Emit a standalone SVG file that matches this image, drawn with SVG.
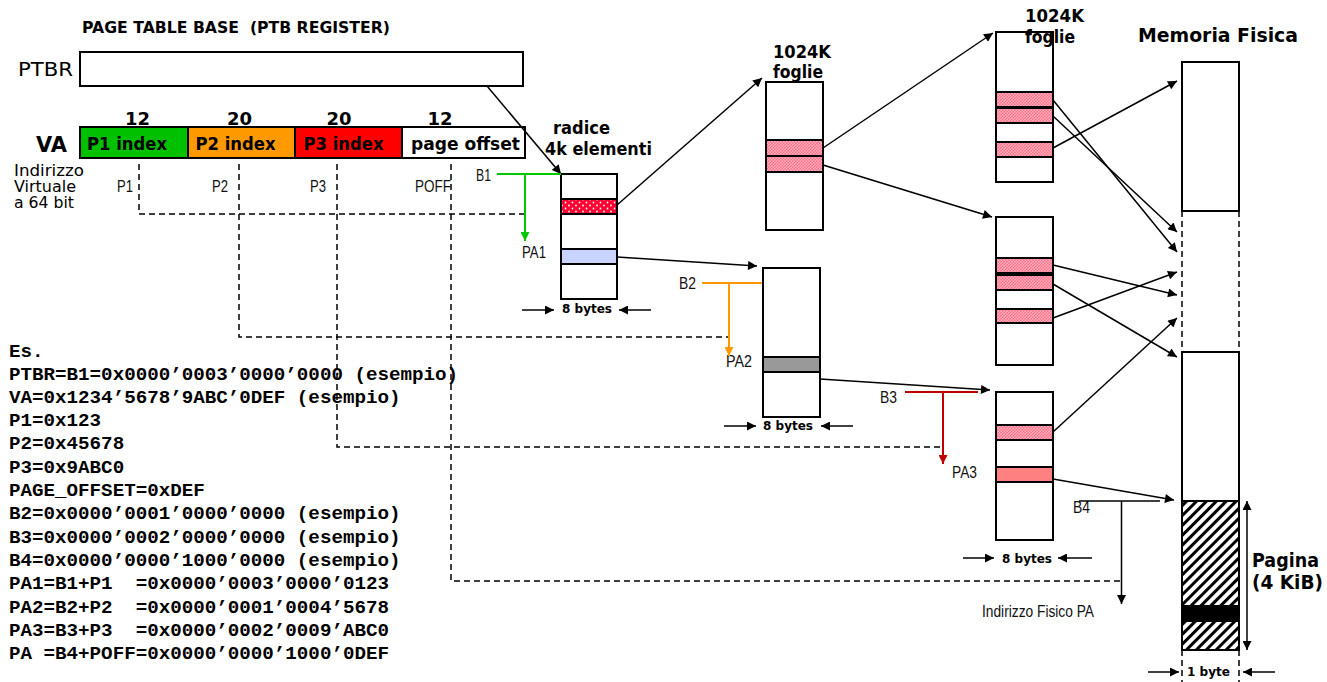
<svg xmlns="http://www.w3.org/2000/svg" width="1327" height="682" viewBox="0 0 1327 682">
<style>
.cs{font-family:"DejaVu Sans","Liberation Sans",sans-serif;fill:#000}
.b{font-weight:bold}
.ar{font-family:"Liberation Sans",Arial,sans-serif;font-size:16.5px;fill:#111}
.mono{font-family:"Liberation Mono","Courier New",monospace;font-weight:bold;font-size:19.2px;fill:#000}
.box{fill:#fff;stroke:#000;stroke-width:2}
.row{stroke:#000;stroke-width:2}
.ln{fill:none;stroke:#000;stroke-width:1.5}
.dash{fill:none;stroke:#000;stroke-width:1.5;stroke-dasharray:6 4}
</style>
<defs>
<marker id="ah" viewBox="0 0 10 10" refX="10" refY="5" markerWidth="11" markerHeight="9" markerUnits="userSpaceOnUse" orient="auto-start-reverse"><path d="M0,0 L10,5 L0,10 z" fill="#000"/></marker>
<marker id="ahg" viewBox="0 0 10 10" refX="10" refY="5" markerWidth="11" markerHeight="9" markerUnits="userSpaceOnUse" orient="auto"><path d="M0,0 L10,5 L0,10 z" fill="#00C800"/></marker>
<marker id="aho" viewBox="0 0 10 10" refX="10" refY="5" markerWidth="11" markerHeight="9" markerUnits="userSpaceOnUse" orient="auto"><path d="M0,0 L10,5 L0,10 z" fill="#FF9900"/></marker>
<marker id="ahr" viewBox="0 0 10 10" refX="10" refY="5" markerWidth="11" markerHeight="9" markerUnits="userSpaceOnUse" orient="auto"><path d="M0,0 L10,5 L0,10 z" fill="#C00000"/></marker>
<pattern id="dots" width="7" height="6" patternUnits="userSpaceOnUse"><rect width="7" height="6" fill="#FF0033"/><circle cx="2" cy="1.5" r="0.9" fill="#fff"/><circle cx="5.5" cy="4.5" r="0.9" fill="#fff"/></pattern>
<pattern id="pink" width="3" height="3" patternUnits="userSpaceOnUse"><rect width="3" height="3" fill="#FF6B85"/><rect width="1.5" height="1.5" fill="#FFB6C3"/><rect x="1.5" y="1.5" width="1.5" height="1.5" fill="#FFB6C3"/></pattern>
<pattern id="hatch" width="7" height="7" patternUnits="userSpaceOnUse" patternTransform="rotate(45)"><rect width="7" height="7" fill="#fff"/><line x1="3.5" y1="0" x2="3.5" y2="7" stroke="#000" stroke-width="3"/></pattern>
</defs>
<rect width="1327" height="682" fill="#fff"/>

<g id="title">
<text class="cs b" x="82" y="33" font-size="15" textLength="308" lengthAdjust="spacingAndGlyphs" xml:space="preserve">PAGE TABLE BASE  (PTB REGISTER)</text>
</g>

<g id="ptbr">
<text class="cs" x="18" y="76" font-size="20" textLength="55" lengthAdjust="spacingAndGlyphs">PTBR</text>
<rect class="box" x="80" y="52" width="443" height="34"/>
</g>

<g id="va">
<text class="cs b" x="36" y="152" font-size="21" textLength="31" lengthAdjust="spacingAndGlyphs">VA</text>
<text class="cs b" x="137.5" y="125" font-size="18" text-anchor="middle">12</text>
<text class="cs b" x="239.5" y="125" font-size="18" text-anchor="middle">20</text>
<text class="cs b" x="339" y="125" font-size="18" text-anchor="middle">20</text>
<text class="cs b" x="440" y="125" font-size="18" text-anchor="middle">12</text>
<rect x="80" y="127" width="108" height="31" fill="#00C000" stroke="#000" stroke-width="2"/>
<rect x="188" y="127" width="107" height="31" fill="#FF9900" stroke="#000" stroke-width="2"/>
<rect x="295" y="127" width="107" height="31" fill="#FF0000" stroke="#000" stroke-width="2"/>
<rect x="402" y="127" width="123" height="31" fill="#fff" stroke="#000" stroke-width="2"/>
<text class="cs b" x="87" y="150" font-size="17" textLength="80" lengthAdjust="spacingAndGlyphs">P1 index</text>
<text class="cs b" x="195.5" y="150" font-size="17" textLength="80" lengthAdjust="spacingAndGlyphs">P2 index</text>
<text class="cs b" x="303.5" y="150" font-size="17" textLength="80" lengthAdjust="spacingAndGlyphs" fill="#200000">P3 index</text>
<text class="cs b" x="411" y="150" font-size="17" textLength="109" lengthAdjust="spacingAndGlyphs">page offset</text>
<text class="cs" x="14" y="176" font-size="15.5" textLength="70" lengthAdjust="spacingAndGlyphs">Indirizzo</text>
<text class="cs" x="14" y="192" font-size="15.5" textLength="62" lengthAdjust="spacingAndGlyphs">Virtuale</text>
<text class="cs" x="14" y="208" font-size="15.5" textLength="60" lengthAdjust="spacingAndGlyphs">a 64 bit</text>
<text class="ar" x="117" y="192" textLength="16" lengthAdjust="spacingAndGlyphs">P1</text>
<text class="ar" x="212" y="192" textLength="16" lengthAdjust="spacingAndGlyphs">P2</text>
<text class="ar" x="310" y="192" textLength="16" lengthAdjust="spacingAndGlyphs">P3</text>
<text class="ar" x="415" y="192" textLength="36" lengthAdjust="spacingAndGlyphs">POFF</text>
</g>

<g id="table-radice">
<text class="cs b" x="581.5" y="134" font-size="17" text-anchor="middle" textLength="57" lengthAdjust="spacingAndGlyphs">radice</text>
<text class="cs b" x="545" y="155" font-size="17" textLength="107" lengthAdjust="spacingAndGlyphs">4k elementi</text>
<rect class="box" x="561" y="174" width="56" height="125"/>
<rect class="row" x="561" y="199" width="56" height="15" fill="url(#dots)"/>
<rect class="row" x="561" y="249" width="56" height="15" fill="#C8D4FF"/>
<text class="cs b" x="562" y="313" font-size="13" textLength="50" lengthAdjust="spacingAndGlyphs">8 bytes</text>
</g>

<g id="table-l2-a">
<text class="cs b" x="773" y="58" font-size="17" textLength="58" lengthAdjust="spacingAndGlyphs">1024K</text>
<text class="cs b" x="773" y="78" font-size="17" textLength="50" lengthAdjust="spacingAndGlyphs">foglie</text>
<rect class="box" x="766" y="82" width="57" height="148"/>
<rect class="row" x="766" y="140" width="57" height="16" fill="url(#pink)"/>
<rect class="row" x="766" y="156" width="57" height="16" fill="url(#pink)"/>
</g>

<g id="table-l2-b">
<rect class="box" x="763" y="268" width="57" height="149"/>
<rect class="row" x="763" y="357" width="57" height="15" fill="#999"/>
<text class="cs b" x="763" y="430" font-size="13" textLength="50" lengthAdjust="spacingAndGlyphs">8 bytes</text>
</g>

<g id="table-l3-a">
<rect class="box" x="996" y="32" width="57" height="150"/>
<rect class="row" x="996" y="92" width="57" height="15" fill="url(#pink)"/>
<rect class="row" x="996" y="108" width="57" height="15" fill="url(#pink)"/>
<rect class="row" x="996" y="142" width="57" height="15" fill="url(#pink)"/>
<text class="cs b" x="1025" y="22" font-size="17" textLength="59" lengthAdjust="spacingAndGlyphs">1024K</text>
<text class="cs b" x="1025" y="43" font-size="17" textLength="50" lengthAdjust="spacingAndGlyphs">foglie</text>
</g>

<g id="table-l3-b">
<rect class="box" x="996" y="217" width="57" height="148"/>
<rect class="row" x="996" y="258" width="57" height="15" fill="url(#pink)"/>
<rect class="row" x="996" y="275" width="57" height="15" fill="url(#pink)"/>
<rect class="row" x="996" y="309" width="57" height="14" fill="url(#pink)"/>
</g>

<g id="table-l3-c">
<rect class="box" x="996" y="392" width="57" height="148"/>
<rect class="row" x="996" y="425" width="57" height="15" fill="url(#pink)"/>
<rect class="row" x="996" y="467" width="57" height="15" fill="#FF8080"/>
<text class="cs b" x="1002" y="563" font-size="13" textLength="50" lengthAdjust="spacingAndGlyphs">8 bytes</text>
</g>

<g id="memoria">
<text class="cs b" x="1138" y="42" font-size="20" textLength="160" lengthAdjust="spacingAndGlyphs">Memoria Fisica</text>
<rect class="box" x="1182" y="62" width="57" height="149"/>
<rect class="box" x="1182" y="352" width="57" height="298"/>
<rect x="1182" y="501" width="57" height="149" fill="url(#hatch)" stroke="#000" stroke-width="2"/>
<rect x="1182" y="605" width="57" height="17" fill="#000"/>
<line class="dash" x1="1182" y1="211" x2="1182" y2="352"/>
<line class="dash" x1="1239" y1="211" x2="1239" y2="352"/>
<line class="dash" x1="1182" y1="650" x2="1182" y2="682"/>
<line class="dash" x1="1239" y1="650" x2="1239" y2="682"/>
<text class="cs b" x="1252" y="567" font-size="20" textLength="67" lengthAdjust="spacingAndGlyphs">Pagina</text>
<text class="cs b" x="1252" y="589" font-size="20" textLength="71" lengthAdjust="spacingAndGlyphs" xml:space="preserve">(4 KiB)</text>
<text class="cs b" x="1187" y="676" font-size="13" textLength="43" lengthAdjust="spacingAndGlyphs">1 byte</text>
</g>

<g id="labels">
<text class="ar" x="476" y="181" textLength="15" lengthAdjust="spacingAndGlyphs">B1</text>
<text class="ar" x="522" y="258" textLength="24" lengthAdjust="spacingAndGlyphs">PA1</text>
<text class="ar" x="679" y="289" textLength="17" lengthAdjust="spacingAndGlyphs">B2</text>
<text class="ar" x="726" y="367" textLength="26" lengthAdjust="spacingAndGlyphs">PA2</text>
<text class="ar" x="880" y="403" textLength="17" lengthAdjust="spacingAndGlyphs">B3</text>
<text class="ar" x="952" y="478" textLength="25" lengthAdjust="spacingAndGlyphs">PA3</text>
<text class="ar" x="1073" y="513" textLength="17" lengthAdjust="spacingAndGlyphs">B4</text>
<text class="ar" x="982" y="617" textLength="112" lengthAdjust="spacingAndGlyphs">Indirizzo Fisico PA</text>
</g>

<g id="esempio">
<text class="mono" x="9" y="357">Es.</text>
<text class="mono" x="9" y="380">PTBR=B1=0x0000’0003’0000’0000 (esempio)</text>
<text class="mono" x="9" y="403">VA=0x1234’5678’9ABC’0DEF (esempio)</text>
<text class="mono" x="9" y="426">P1=0x123</text>
<text class="mono" x="9" y="449">P2=0x45678</text>
<text class="mono" x="9" y="473">P3=0x9ABC0</text>
<text class="mono" x="9" y="496">PAGE_OFFSET=0xDEF</text>
<text class="mono" x="9" y="519">B2=0x0000’0001’0000’0000 (esempio)</text>
<text class="mono" x="9" y="543">B3=0x0000’0002’0000’0000 (esempio)</text>
<text class="mono" x="9" y="566">B4=0x0000’0000’1000’0000 (esempio)</text>
<text class="mono" x="9" y="589" xml:space="preserve">PA1=B1+P1  =0x0000’0003’0000’0123</text>
<text class="mono" x="9" y="613" xml:space="preserve">PA2=B2+P2  =0x0000’0001’0004’5678</text>
<text class="mono" x="9" y="636" xml:space="preserve">PA3=B3+P3  =0x0000’0002’0009’ABC0</text>
<text class="mono" x="9" y="659" xml:space="preserve">PA =B4+POFF=0x0000’0000’1000’0DEF</text>
</g>

<g id="connectors">
<polyline class="dash" points="139,164 139,214 525,214"/>
<polyline class="dash" points="239,164 239,337 729,337"/>
<polyline class="dash" points="337,164 337,447 943,447"/>
<polyline class="dash" points="451,164 451,581 1121,581"/>
<line class="ln" x1="487" y1="86" x2="561" y2="174" marker-end="url(#ah)"/>
<line x1="497" y1="174" x2="561" y2="174" stroke="#00C800" stroke-width="2"/>
<line x1="525" y1="174" x2="525" y2="241" stroke="#00C800" stroke-width="2" marker-end="url(#ahg)"/>
<line x1="702" y1="283" x2="762" y2="283" stroke="#FF9900" stroke-width="2"/>
<line x1="729" y1="283" x2="729" y2="356" stroke="#FF9900" stroke-width="2" marker-end="url(#aho)"/>
<line x1="905" y1="392" x2="978" y2="392" stroke="#C00000" stroke-width="2"/>
<line x1="943" y1="392" x2="943" y2="464" stroke="#C00000" stroke-width="2" marker-end="url(#ahr)"/>
<line class="ln" x1="1079" y1="501" x2="1160" y2="501"/>
<line class="ln" x1="1121.5" y1="501" x2="1121.5" y2="604" marker-end="url(#ah)"/>
<line class="ln" x1="617" y1="205" x2="762" y2="78" marker-end="url(#ah)"/>
<line class="ln" x1="617" y1="257" x2="757" y2="266" marker-end="url(#ah)"/>
<line class="ln" x1="823" y1="148" x2="993" y2="33" marker-end="url(#ah)"/>
<line class="ln" x1="823" y1="165" x2="992" y2="217" marker-end="url(#ah)"/>
<line class="ln" x1="820" y1="379" x2="990" y2="390" marker-end="url(#ah)"/>
<line class="ln" x1="1053" y1="100" x2="1177" y2="252" marker-end="url(#ah)"/>
<line class="ln" x1="1053" y1="116" x2="1177" y2="232" marker-end="url(#ah)"/>
<line class="ln" x1="1053" y1="148" x2="1177" y2="81" marker-end="url(#ah)"/>
<line class="ln" x1="1053" y1="265" x2="1177" y2="295" marker-end="url(#ah)"/>
<line class="ln" x1="1053" y1="284" x2="1177" y2="357" marker-end="url(#ah)"/>
<line class="ln" x1="1053" y1="318" x2="1177" y2="272" marker-end="url(#ah)"/>
<line class="ln" x1="1053" y1="432" x2="1177" y2="318" marker-end="url(#ah)"/>
<line class="ln" x1="1053" y1="479" x2="1174" y2="500" marker-end="url(#ah)"/>
<line class="ln" x1="522" y1="310" x2="554" y2="310" marker-end="url(#ah)"/>
<line class="ln" x1="651" y1="310" x2="619" y2="310" marker-end="url(#ah)"/>
<line class="ln" x1="724" y1="426" x2="756" y2="426" marker-end="url(#ah)"/>
<line class="ln" x1="853" y1="426" x2="821" y2="426" marker-end="url(#ah)"/>
<line class="ln" x1="963" y1="558" x2="994" y2="558" marker-end="url(#ah)"/>
<line class="ln" x1="1092" y1="558" x2="1058" y2="558" marker-end="url(#ah)"/>
<line class="ln" x1="1148" y1="672" x2="1179" y2="672" marker-end="url(#ah)"/>
<line class="ln" x1="1275" y1="672" x2="1243" y2="672" marker-end="url(#ah)"/>
<line class="ln" x1="1247" y1="501" x2="1247" y2="650" marker-start="url(#ah)" marker-end="url(#ah)"/>
</g>
</svg>
